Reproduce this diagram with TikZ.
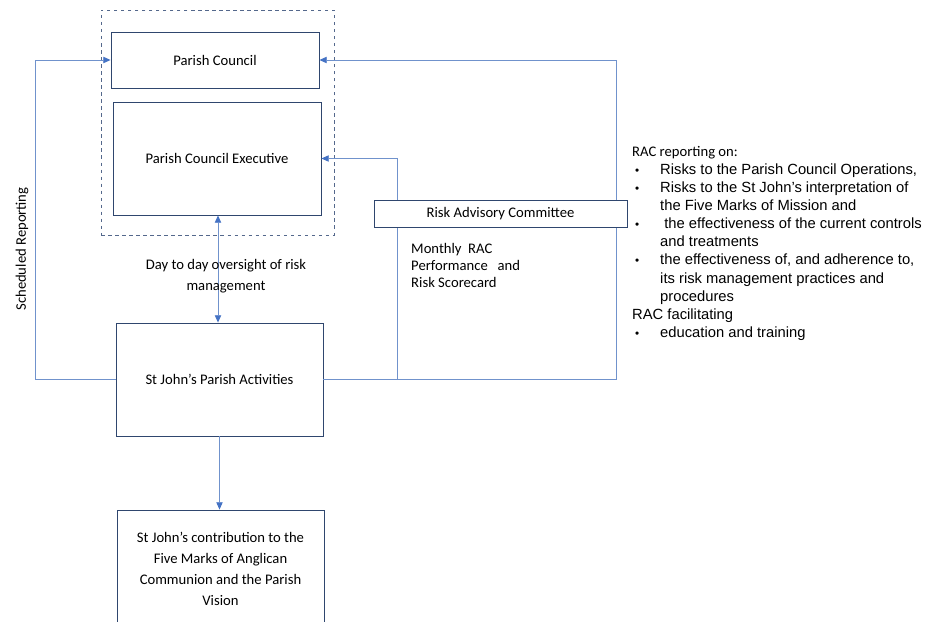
\documentclass[tikz,border=0pt]{standalone}
\usepackage{fontspec}
\setmainfont{Carlito}
\newfontfamily\arialfont{Liberation Sans}
\usetikzlibrary{arrows.meta}
\definecolor{boxcol}{RGB}{47,70,110}
\definecolor{grpcol}{RGB}{84,104,140}
\definecolor{linecol}{RGB}{112,146,204}
\definecolor{tipcol}{RGB}{68,114,196}
\newcommand{\racbullet}{\hspace*{0.9mm}\makebox[7.5mm][l]{\fontsize{10}{10}\selectfont\textbullet}}
\newcommand{\racindent}{\hspace*{8.4mm}}

\begin{document}
\begin{tikzpicture}[x=0.3mm,y=-0.3mm]
    \tikzstyle{every node}+=[inner sep=0pt]
    \tikzstyle{box}=[draw=boxcol, line width=0.7pt, fill=white, align=center, font=\fontsize{12.5}{17.9}\selectfont]
    \tikzstyle{grp}=[draw=grpcol, line width=0.7pt, dashed]
    \tikzstyle{conn}=[draw=linecol, line width=0.8pt, -{Triangle[length=2.2mm,width=1.9mm,color=tipcol]}]
    \tikzstyle{lbl}=[align=center, font=\fontsize{12.5}{17.9}\selectfont]
    \useasboundingbox (0,0) rectangle (934,621);
    \node[grp, minimum width=69.9mm, minimum height=67.5mm] (team) at (217.5,122.5) {};
    \node[box, minimum width=62.4mm, minimum height=16.8mm] (pc) at (215,60) {Parish Council};
    \node[box, minimum width=62.4mm, minimum height=33.9mm] (pce) at (217,158.5) {Parish Council Executive};
    \node[box, minimum width=62.1mm, minimum height=33.9mm] (act) at (219.5,379.5) {St John’s Parish Activities};
    \node[box, minimum width=62.1mm, minimum height=35.1mm] (vis) at (220.5,568.5) {St John’s contribution to the\\Five Marks of Anglican\\Communion and the Parish\\Vision};
    \coordinate (tap) at (397,379.5);
    \draw[conn] (act.west) -- ++(-80,0) |- (pc.west);
    \draw[conn] (act.east) -- ++(293,0) |- (pc.east);
    \draw[conn] (tap) |- (pce.east);
    \draw[conn, {Triangle[length=2.2mm,width=1.9mm,color=tipcol]}-{Triangle[length=2.2mm,width=1.9mm,color=tipcol]}] (pce.south -| 218,0) -- (act.north -| 218,0);
    \draw[conn] (act.south) -- (act.south |- vis.north);
    \node[box, minimum width=75.9mm, minimum height=8.1mm] (rac) at (500.5,214) {Risk Advisory Committee};
    \node[lbl] (oversight) at (226,276.5) {Day to day oversight of risk\\management};
    \node[lbl, rotate=90] (sched) at (22,249) {Scheduled Reporting};
    \node[lbl, anchor=north west, align=left, font=\fontsize{12.5}{14.5}\selectfont] (score) at (411,243) {Monthly~ RAC\\Performance~~ and\\Risk Scorecard};
    \node[anchor=north west, align=left, font=\arialfont\fontsize{12.6}{15.45}\selectfont] (report) at (632,146) {{\rmfamily\fontsize{12.5}{15.45}\selectfont RAC reporting on:}\\
        \racbullet Risks to the Parish Council Operations,\\
        \racbullet Risks to the St John’s interpretation of\\
        \racindent the Five Marks of Mission and\\
        \racbullet\ the effectiveness of the current controls\\
        \racindent and treatments\\
        \racbullet the effectiveness of, and adherence to,\\
        \racindent its risk management practices and\\
        \racindent procedures\\
        RAC facilitating\\
        \racbullet education and training};
\end{tikzpicture}
\end{document}
